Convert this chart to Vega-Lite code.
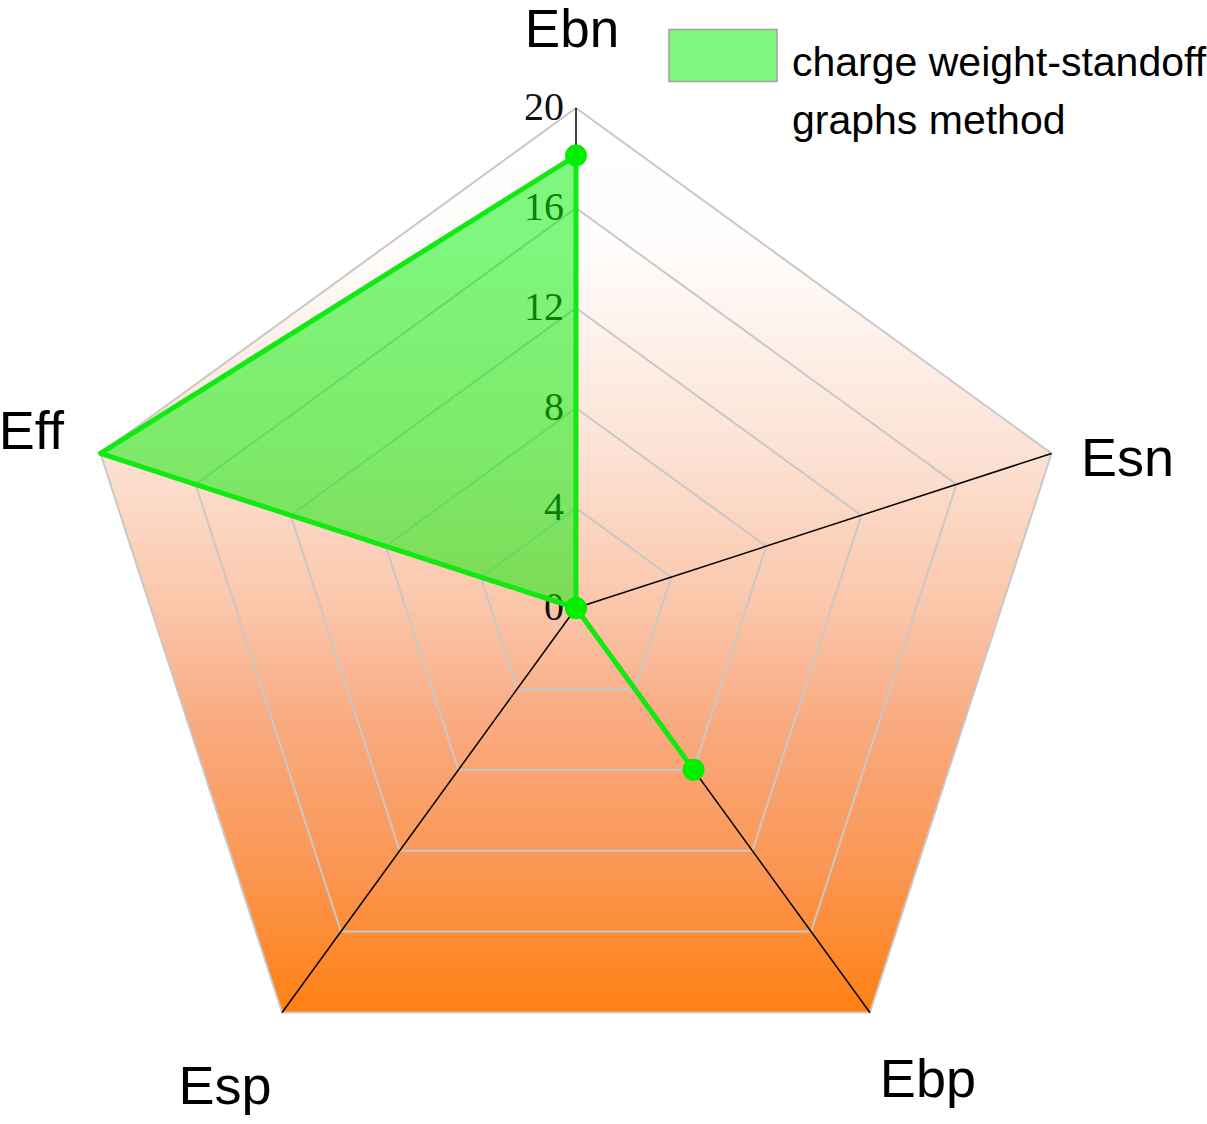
{
  "$schema": "https://vega.github.io/schema/vega-lite/v6.json",
  "width": 1207,
  "height": 1124,
  "padding": 0,
  "autosize": {"type": "none"},
  "background": "white",
  "config": {"view": {"stroke": null}},
  "datasets": {
    "vals": [
      {"axis": "Ebn", "k": 0, "value": 18.1, "series": "charge weight-standoff graphs method"},
      {"axis": "Esn", "k": 1, "value": 0, "series": "charge weight-standoff graphs method"},
      {"axis": "Ebp", "k": 2, "value": 8, "series": "charge weight-standoff graphs method"},
      {"axis": "Esp", "k": 3, "value": 0, "series": "charge weight-standoff graphs method"},
      {"axis": "Eff", "k": 4, "value": 20, "series": "charge weight-standoff graphs method"}
    ],
    "grid": [
      {"level": 4, "k": [0, 1, 2, 3, 4]},
      {"level": 8, "k": [0, 1, 2, 3, 4]},
      {"level": 12, "k": [0, 1, 2, 3, 4]},
      {"level": 16, "k": [0, 1, 2, 3, 4]},
      {"level": 20, "k": [0, 1, 2, 3, 4]}
    ],
    "ticks": [
      {"level": 0}, {"level": 4}, {"level": 8}, {"level": 12}, {"level": 16}, {"level": 20}
    ]
  },
  "encoding": {
    "x": {"field": "x", "type": "quantitative", "scale": {"domain": [-23.04, 25.24], "zero": false, "nice": false}, "axis": null},
    "y": {"field": "y", "type": "quantitative", "scale": {"domain": [-20.64, 24.32], "zero": false, "nice": false}, "axis": null}
  },
  "layer": [
    {
      "data": {"name": "grid"},
      "transform": [
        {"flatten": ["k"]},
        {"filter": "datum.level == 20"},
        {"calculate": "datum.level * cos(PI/2 - datum.k * 2 * PI / 5)", "as": "x"},
        {"calculate": "datum.level * sin(PI/2 - datum.k * 2 * PI / 5)", "as": "y"}
      ],
      "mark": {
        "type": "line",
        "interpolate": "linear-closed",
        "strokeOpacity": 0,
        "fill": {
          "gradient": "linear", "x1": 0, "y1": 0, "x2": 0, "y2": 1,
          "stops": [
            {"offset": 0, "color": "#FFFFFF"},
            {"offset": 0.15, "color": "#FFFDFC"},
            {"offset": 0.38, "color": "#FCE2D4"},
            {"offset": 0.55, "color": "#FBC6AA"},
            {"offset": 0.68, "color": "#F9AA80"},
            {"offset": 0.85, "color": "#FB9550"},
            {"offset": 1, "color": "#FF8012"}
          ]
        }
      },
      "encoding": {"order": {"field": "k", "type": "quantitative"}}
    },
    {
      "data": {"name": "grid"},
      "transform": [
        {"flatten": ["k"]},
        {"calculate": "datum.level * cos(PI/2 - datum.k * 2 * PI / 5)", "as": "x"},
        {"calculate": "datum.level * sin(PI/2 - datum.k * 2 * PI / 5)", "as": "y"}
      ],
      "mark": {"type": "line", "interpolate": "linear-closed", "stroke": "#C8C8C8", "strokeWidth": 2},
      "encoding": {
        "detail": {"field": "level", "type": "nominal"},
        "order": {"field": "k", "type": "quantitative"}
      }
    },
    {
      "data": {"name": "vals"},
      "transform": [
        {"calculate": "20 * cos(PI/2 - datum.k * 2 * PI / 5)", "as": "x"},
        {"calculate": "20 * sin(PI/2 - datum.k * 2 * PI / 5)", "as": "y"}
      ],
      "mark": {"type": "rule", "stroke": "#000000", "strokeWidth": 1.5},
      "encoding": {"x2": {"datum": 0}, "y2": {"datum": 0}}
    },
    {
      "data": {"name": "ticks"},
      "transform": [
        {"calculate": "0", "as": "x"},
        {"calculate": "datum.level", "as": "y"}
      ],
      "mark": {"type": "text", "align": "right", "baseline": "middle", "dx": -12, "font": "Liberation Serif", "fontSize": 40, "color": "#111111"},
      "encoding": {"text": {"field": "level", "type": "quantitative"}}
    },
    {
      "data": {"name": "vals"},
      "transform": [
        {"calculate": "datum.value * cos(PI/2 - datum.k * 2 * PI / 5)", "as": "x"},
        {"calculate": "datum.value * sin(PI/2 - datum.k * 2 * PI / 5)", "as": "y"}
      ],
      "mark": {"type": "line", "interpolate": "linear-closed", "stroke": "#12E812", "strokeWidth": 5, "fillOpacity": 0.5, "strokeJoin": "round"},
      "encoding": {
        "order": {"field": "k", "type": "quantitative"},
        "fill": {
          "field": "series", "type": "nominal",
          "scale": {"range": ["#00F000"]},
          "legend": {
            "orient": "none", "legendX": 668, "legendY": -11, "title": null, "padding": 0,
            "symbolType": "M-1,-0.27H1V0.693H-1Z", "symbolSize": 11664,
            "symbolOpacity": 0.5, "symbolStrokeColor": "#444444", "symbolStrokeWidth": 1.5,
            "labelFont": "Liberation Sans", "labelFontSize": 41, "labelColor": "#000000",
            "labelLimit": 1000, "labelOffset": 14, "labelBaseline": "top",
            "labelExpr": "[substring(datum.label, 0, 22), substring(datum.label, 23)]",
            "encode": {"labels": {"update": {"lineHeight": {"value": 58}}}}
          }
        }
      }
    },
    {
      "data": {"name": "vals"},
      "transform": [
        {"filter": "datum.axis != 'Eff'"},
        {"calculate": "datum.value * cos(PI/2 - datum.k * 2 * PI / 5)", "as": "x"},
        {"calculate": "datum.value * sin(PI/2 - datum.k * 2 * PI / 5)", "as": "y"}
      ],
      "mark": {"type": "circle", "size": 480, "color": "#00EE00", "opacity": 1}
    },
    {
      "data": {"name": "vals"},
      "transform": [
        {"filter": "datum.axis == 'Ebn'"},
        {"calculate": "23.2 * cos(PI/2 - datum.k * 2 * PI / 5)", "as": "x"},
        {"calculate": "23.2 * sin(PI/2 - datum.k * 2 * PI / 5)", "as": "y"}
      ],
      "mark": {"type": "text", "align": "center", "baseline": "middle", "dx": -4, "dy": 3, "font": "Liberation Sans", "fontSize": 53, "color": "#000000"},
      "encoding": {"text": {"field": "axis", "type": "nominal"}}
    },
    {
      "data": {"name": "vals"},
      "transform": [
        {"filter": "datum.axis == 'Eff'"},
        {"calculate": "23.2 * cos(PI/2 - datum.k * 2 * PI / 5)", "as": "x"},
        {"calculate": "23.2 * sin(PI/2 - datum.k * 2 * PI / 5)", "as": "y"}
      ],
      "mark": {"type": "text", "align": "center", "baseline": "middle", "dx": 7, "dy": 4, "font": "Liberation Sans", "fontSize": 54, "color": "#000000"},
      "encoding": {"text": {"field": "axis", "type": "nominal"}}
    },
    {
      "data": {"name": "vals"},
      "transform": [
        {"filter": "datum.axis == 'Esn'"},
        {"calculate": "23.2 * cos(PI/2 - datum.k * 2 * PI / 5)", "as": "x"},
        {"calculate": "23.2 * sin(PI/2 - datum.k * 2 * PI / 5)", "as": "y"}
      ],
      "mark": {"type": "text", "align": "center", "baseline": "middle", "dy": 31, "font": "Liberation Sans", "fontSize": 54, "color": "#000000"},
      "encoding": {"text": {"field": "axis", "type": "nominal"}}
    },
    {
      "data": {"name": "vals"},
      "transform": [
        {"filter": "datum.axis == 'Ebp'"},
        {"calculate": "23.2 * cos(PI/2 - datum.k * 2 * PI / 5)", "as": "x"},
        {"calculate": "23.2 * sin(PI/2 - datum.k * 2 * PI / 5)", "as": "y"}
      ],
      "mark": {"type": "text", "align": "center", "baseline": "middle", "dx": 11, "dy": 4, "font": "Liberation Sans", "fontSize": 54, "color": "#000000"},
      "encoding": {"text": {"field": "axis", "type": "nominal"}}
    },
    {
      "data": {"name": "vals"},
      "transform": [
        {"filter": "datum.axis == 'Esp'"},
        {"calculate": "23.2 * cos(PI/2 - datum.k * 2 * PI / 5)", "as": "x"},
        {"calculate": "23.2 * sin(PI/2 - datum.k * 2 * PI / 5)", "as": "y"}
      ],
      "mark": {"type": "text", "align": "center", "baseline": "middle", "dx": -10, "dy": 11, "font": "Liberation Sans", "fontSize": 54, "color": "#000000"},
      "encoding": {"text": {"field": "axis", "type": "nominal"}}
    }
  ]
}
